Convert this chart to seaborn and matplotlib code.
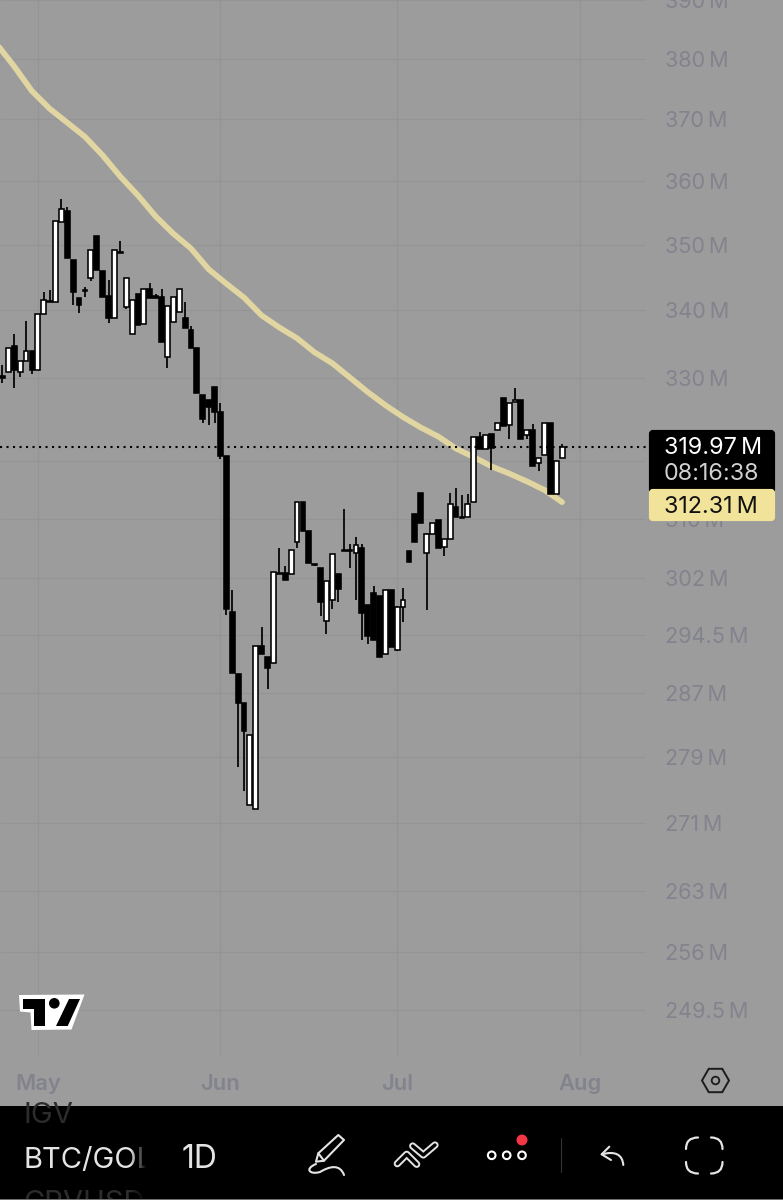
import numpy as np
import pandas as pd
import seaborn as sns
import matplotlib
matplotlib.use("Agg")
import matplotlib.pyplot as plt
import matplotlib.dates as mdates
from matplotlib.patches import Rectangle, Polygon, Circle, RegularPolygon, PathPatch, FancyBboxPatch
from matplotlib.path import Path
from matplotlib.ticker import NullLocator

start_date = "2025-04-25"
opens = [330.2,330.8,334.6,330.8,332.4,333.9,331.1,339.4,341.4,341.2,353.5,355.3,347.6,341.8,343.0,344.9,
         351.3,345.9,342.1,338.8,348.9,340.4,336.4,342.4,337.9,343.2,342.1,342.0,333.0,338.2,339.7,338.8,
         337.0,334.3,327.5,326.8,328.7,325.0,318.8,297.5,289.5,285.7,273.2,272.7,293.0,291.7,290.8,302.7,
         302.7,302.5,306.8,312.3,308.3,303.9,303.4,296.3,299.1,302.6,305.8,305.8,305.3,306.1,298.4,300.0,
         299.6,292.0,300.4,292.6,298.1,305.7,310.7,313.6,305.4,308.0,309.8,306.2,307.2,311.7,310.3,310.3,
         312.3,321.5,319.7,321.9,322.5,327.0,323.1,326.4,326.8,321.8,322.5,317.8,318.9,323.5,313.4,318.5]
highs = [331.8,334.4,336.5,332.5,338.4,333.9,339.4,342.7,343.0,353.6,357.1,355.8,347.6,341.8,343.5,349.1,
         351.3,345.9,344.6,349.1,350.5,344.8,341.6,342.4,343.2,344.1,342.4,343.2,340.6,342.0,343.2,341.3,
         337.6,334.3,327.5,326.8,328.7,326.3,318.8,300.4,289.5,285.8,281.8,293.0,295.5,291.7,302.8,306.1,
         303.6,305.8,312.3,312.3,308.3,303.9,303.4,301.6,305.2,302.6,311.4,306.6,307.5,306.6,298.4,301.0,
         299.6,300.4,300.4,298.3,300.7,305.7,310.7,313.6,308.1,309.5,309.8,307.2,313.6,314.3,313.3,313.5,
         321.5,322.2,321.8,321.9,323.4,327.0,326.3,328.5,326.8,322.4,323.3,318.5,323.4,323.5,318.1,320.4]
lows = [329.2,330.8,328.5,330.1,332.4,330.5,331.1,339.4,341.2,341.2,353.5,347.9,340.7,339.5,342.0,344.4,
        346.1,342.0,338.1,338.8,348.7,340.1,336.4,337.8,337.9,341.8,341.9,335.3,331.4,338.2,339.7,337.3,
        334.4,327.7,323.4,323.1,323.5,318.3,297.1,289.6,277.8,274.8,273.2,272.7,292.0,287.6,290.8,302.5,
        301.7,302.5,306.1,308.3,304.0,303.6,297.0,294.6,297.9,298.8,305.6,303.3,299.1,293.8,293.3,293.9,
        291.7,292.0,292.9,292.4,296.2,304.1,306.8,309.4,297.8,308.0,306.1,304.9,307.2,310.3,310.1,310.3,
        312.3,319.7,319.7,316.8,322.5,323.0,321.2,326.4,321.2,321.2,317.4,316.7,318.9,313.4,313.4,318.5]
closes = [329.9,334.4,331.1,332.5,333.9,331.1,339.4,341.5,341.2,353.6,355.6,347.9,342.7,340.7,342.9,349.1,
          346.1,342.0,338.8,349.1,348.7,344.8,341.6,337.8,343.2,341.8,341.9,335.3,340.6,342.0,343.2,337.3,
          334.4,327.7,324.0,325.8,325.0,318.8,297.9,289.6,285.7,282.3,281.8,293.0,292.0,290.2,302.8,302.5,
          301.7,305.8,312.3,308.3,304.0,303.7,298.8,301.6,305.2,300.6,305.6,305.6,306.4,297.4,294.3,293.9,
          291.7,300.4,292.9,298.1,299.1,304.1,306.8,309.4,308.0,309.5,306.1,307.2,312.0,310.3,310.1,312.1,
          321.5,319.7,321.8,319.9,323.4,323.0,326.3,326.8,321.2,322.4,317.4,318.5,323.4,313.4,318.1,319.97]
ma_start = "2025-04-24"
ma_values = [382.5,378.7,374.6,371.7,369.4,367.1,364.1,360.7,357.7,354.4,351.7,349.4,346.2,344.0,341.9,339.2,
             337.4,335.8,333.7,332.1,330.0,327.9,326.0,324.3,322.8,321.5,319.8,318.6,317.3,316.3,315.2,314.0,312.31]
y_ticks = [249.5, 256, 263, 271, 279, 287, 294.5, 302, 310, 318, 330, 340, 350, 360, 370, 380, 390]
month_ticks = ["2025-05-01", "2025-06-01", "2025-07-01", "2025-08-01"]
month_labels = ["May", "Jun", "Jul", "Aug"]
last_price = 319.97
ma_last = 312.31

BG = "#9c9c9c"
GRID = "#949494"
TICK = "#83838e"
MA = "#e1d5a2"
WHITE = "#e8e8e8"
THIN = "\u2009"

sns.set_theme(style="white", rc={"axes.facecolor": BG, "figure.facecolor": BG})
plt.rcParams["font.family"] = ["Inter", "DejaVu Sans"]

df = pd.DataFrame({"date": pd.date_range(start_date, periods=len(opens)),
                   "open": opens, "high": highs, "low": lows, "close": closes})
ma_df = pd.DataFrame({"date": pd.date_range(ma_start, periods=len(ma_values), freq="3D"), "ma": ma_values})

fig = plt.figure(figsize=(7.83, 12), dpi=100)
H = 1200.0
ax = fig.add_axes([0, 94 / H, 1, 1106 / H])
ax.set_yscale("log")
x0 = mdates.date2num(pd.Timestamp(start_date))
ax.xaxis_date()
ax.set_xlim(x0 - 0.424, x0 + 132.5)
ax.set_ylim(239.1, 389.9)
for s in ax.spines.values():
    s.set_visible(False)

# grid that stops short of the price labels / date labels
ax.hlines(y_ticks, 0, 645 / 783, transform=ax.get_yaxis_transform(), color=GRID, lw=0.8, zorder=0.6)
month_nums = mdates.date2num(pd.to_datetime(month_ticks))
ax.vlines(month_nums, 51 / 1106, 1, transform=ax.get_xaxis_transform(), color=GRID, lw=0.8, zorder=0.6)

# moving average
sns.lineplot(data=ma_df, x="date", y="ma", ax=ax, color=MA, lw=4.1, zorder=2,
             solid_capstyle="round", solid_joinstyle="round", legend=False)

# last price
ax.hlines(last_price, 0, 648 / 783, transform=ax.get_yaxis_transform(), color="black",
          lw=1.5, linestyles=[(0, (1, 2.12))], zorder=4)

# candles
ax.vlines(df["date"], df["low"], df["high"], color="black", lw=1.25, zorder=3)
df["bottom"] = df[["open", "close"]].min(axis=1)
df["height"] = (df["close"] - df["open"]).abs()
df["up"] = df["close"] > df["open"]
for i, row in df.iterrows():
    ax.bar(row["date"], row["height"], bottom=row["bottom"], width=0.82,
           color="white" if row["up"] else "black", edgecolor="black", linewidth=1.15, zorder=3 + i * 0.001)

ax.set_xlabel("")
ax.set_ylabel("")
ax.yaxis.tick_right()
ax.set_yticks(y_ticks)
ax.set_yticklabels([f"{t:g}{THIN}M" for t in y_ticks], fontsize=15.6, color=TICK, ha="left")
ax.yaxis.set_minor_locator(NullLocator())
ax.tick_params(axis="y", length=0, pad=-(783 - 665) * 0.72)
ax.set_xticks(month_nums)
ax.set_xticklabels(month_labels, fontsize=15.8, color=TICK, fontweight="semibold")
ax.tick_params(axis="x", length=0, pad=-32 * 0.72)
ax.set_axisbelow(True)

# interface layer, in pixel coordinates
ui = fig.add_axes([0, 0, 1, 1], facecolor="none", zorder=10)
ui.set_xlim(0, 783)
ui.set_ylim(1200, 0)
ui.axis("off")
UI = "#e4e4e4"

# price tags
ui.add_patch(FancyBboxPatch((651, 432), 122, 60, boxstyle="round,pad=0,rounding_size=2",
                            fc="black", ec="black", lw=3))
ui.add_patch(FancyBboxPatch((651, 491), 122, 28, boxstyle="round,pad=0,rounding_size=2",
                            fc="#f2e39b", ec="#f2e39b", lw=3))
ui.text(664, 448, f"{last_price:.2f}{THIN}M", color="white", fontsize=16.8, va="center")
ui.text(664, 474, "08:16:38", color="#d0d0d0", fontsize=16.8, va="center")
ui.text(664, 507, f"{ma_last:.2f}{THIN}M", color="#111111", fontsize=16.8, va="center")

# logo
ui.add_patch(Polygon([(19, 995), (84.5, 994.5), (71.5, 1029.5), (31.5, 1030), (30.5, 1012.5), (20, 1011.5)],
                     fc="white", ec="none"))
ui.add_patch(Polygon([(22.7, 999), (45, 999), (45, 1026), (34.3, 1026), (34.3, 1009), (22.7, 1009)], fc="black", ec="none"))
ui.add_patch(Polygon([(69, 999), (80, 999), (67.7, 1026), (56, 1026)], fc="black", ec="none"))
ui.add_patch(Circle((54.3, 1003.3), 5.3, fc="black", ec="none"))

# settings hexagon
ui.add_patch(RegularPolygon((715.5, 1080.5), 6, radius=13.5, orientation=np.pi / 2, fc="none", ec="#1c1c1c", lw=1.4))
ui.add_patch(Circle((715.5, 1080.5), 3.8, fc="none", ec="#1c1c1c", lw=1.3))

# bottom bar
bar = Rectangle((0, 1106), 783, 94, fc="black", ec="none")
ui.add_patch(bar)
ui.add_patch(Rectangle((0, 1199), 783, 1, fc="#6e6e6e", ec="none", zorder=8))
for txt, base in [("IGV", 1123), ("CRVUSD", 1211)]:
    t = ui.text(23.5, base, txt, color="#2c2c2c", fontsize=21, va="baseline")
    t.set_clip_path(bar)
ui.text(23.5, 1168, "BTC/GOL", color=UI, fontsize=21, va="baseline")
fade = np.zeros((1, 40, 4))
fade[0, :, 3] = np.clip(np.linspace(0, 1.3, 40), 0, 1)
ui.imshow(fade, extent=(130, 151, 1199, 1106), aspect="auto", zorder=5)
ui.add_patch(Rectangle((151, 1106), 25, 93, fc="black", ec="none", zorder=5))
ui.text(181.5, 1168, "1D", color=UI, fontsize=23, va="baseline", zorder=6)
ui.set_xlim(0, 783)
ui.set_ylim(1200, 0)

line = dict(color=UI, lw=1.5, solid_capstyle="round", solid_joinstyle="round", zorder=6)
# pencil
ui.add_patch(Polygon([(316, 1161.7), (318.3, 1153.3), (338.3, 1135), (344, 1140), (324, 1160.7)],
                     fc="none", ec=UI, lw=1.5, joinstyle="round", zorder=6))
ui.plot([318.3, 324], [1153.3, 1160.7], **line)
ui.add_patch(PathPatch(Path([(316, 1164), (304, 1169), (310, 1175), (320, 1172), (330, 1166), (340, 1164), (344, 1175)],
                            [Path.MOVETO, Path.CURVE4, Path.CURVE4, Path.CURVE4, Path.CURVE4, Path.CURVE4, Path.CURVE4]),
                       fc="none", ec=UI, lw=1.5, capstyle="round", zorder=6))
# chevrons
for xs, ys in [([397.3, 406.7, 416.7], [1163.7, 1154.3, 1164.3]), ([412.7, 423.3, 435], [1146, 1155, 1145])]:
    ui.plot(xs, ys, color=UI, lw=5.2, solid_capstyle="round", solid_joinstyle="round", zorder=6)
    ui.plot(xs, ys, color="black", lw=2.4, solid_capstyle="round", solid_joinstyle="round", zorder=7)
# three dots
for cx in [491.7, 506.7, 522]:
    ui.add_patch(Circle((cx, 1155.3), 3.8, fc="none", ec="white", lw=1.5, zorder=6))
ui.add_patch(Circle((522, 1140), 5.5, fc="#f23645", ec="none", zorder=6))
# separator
ui.plot([560.5, 560.5], [1138, 1172], color="#333333", lw=0.8, zorder=6)
# undo
ui.plot([609.3, 601.7, 611], [1146.7, 1154.3, 1160], **line)
ui.add_patch(PathPatch(Path([(601.7, 1154.3), (622, 1149), (623.3, 1165)], [Path.MOVETO, Path.CURVE3, Path.CURVE3]),
                       fc="none", ec=UI, lw=1.5, capstyle="round", zorder=6))
# full screen corners
for (ax_, ay_), (cx_, cy_), (bx_, by_) in [((686, 1149), (686, 1137.5), (698, 1137.5)),
                                          ((711, 1137.5), (722.5, 1137.5), (722.5, 1149)),
                                          ((686, 1162), (686, 1173.5), (698, 1173.5)),
                                          ((711, 1173.5), (722.5, 1173.5), (722.5, 1162))]:
    ui.add_patch(PathPatch(Path([(ax_, ay_), (cx_, cy_), (bx_, by_)], [Path.MOVETO, Path.CURVE3, Path.CURVE3]),
                           fc="none", ec=UI, lw=1.6, capstyle="round", zorder=6))

fig.savefig("out.png", dpi=100, facecolor=BG)
